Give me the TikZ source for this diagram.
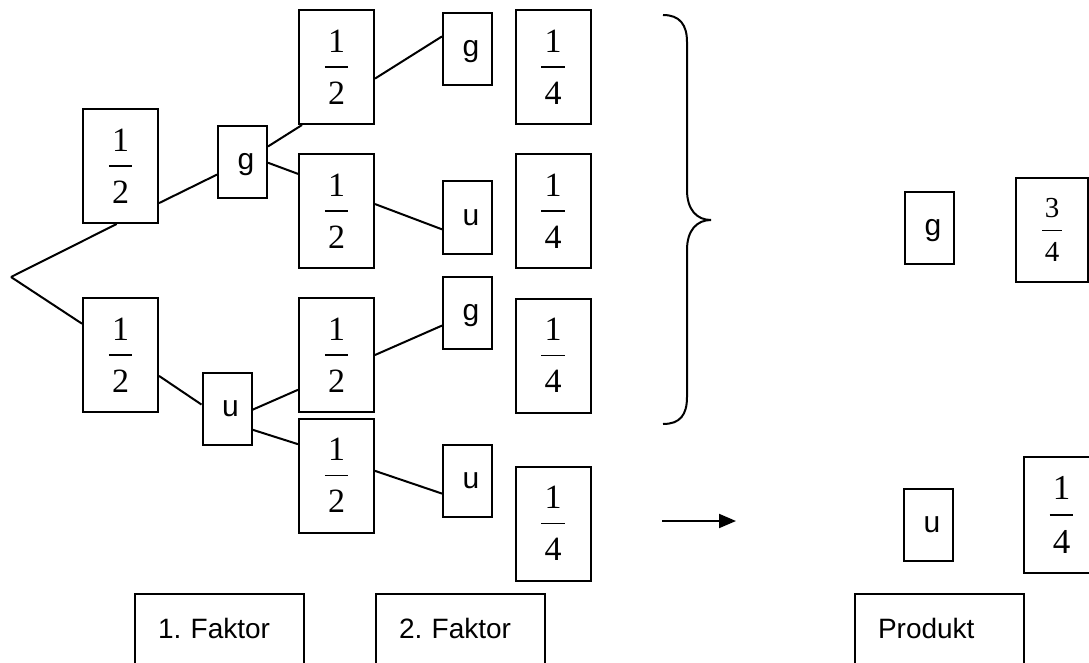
\documentclass[tikz,border=0pt]{standalone}
\usepackage{fontspec}
\setmainfont{Liberation Serif}
\setsansfont{Liberation Sans}
\usetikzlibrary{calc,arrows.meta}
\frenchspacing
\newcommand\fr[2]{\vbox{\offinterlineskip\halign{\hfil##\hfil\cr #1\cr\noalign{\kern0.41em}\vrule width 0.68em height 0.045em depth 0pt\cr\noalign{\kern0.41em}#2\cr}}}
\tikzset{
  fbox/.style={draw, line width=2pt, minimum width=75pt, minimum height=114pt, inner sep=0pt, font=\fontsize{34}{40}\selectfont},
  lbox/.style={draw, line width=2pt, minimum width=49pt, minimum height=72pt, inner sep=0pt, font=\sffamily\fontsize{30}{36}\selectfont, text height=15.6pt, text depth=0pt, execute at begin node={\hspace*{7pt}}},
  tbox/.style={draw, line width=2pt, anchor=north west, minimum height=100pt, inner xsep=23pt, inner ysep=0pt, text width=123pt, align=left, text height=10pt, text depth=22pt, font=\sffamily\fontsize{28}{34}\selectfont},
  conn/.style={line width=2pt}
}
\begin{document}
\begin{tikzpicture}[x=1pt,y=-1pt]
\useasboundingbox (0,0) rectangle (1089,663);
\clip (0,0) rectangle (1089,663);
% first level
\coordinate (root) at (11,277);
\node[fbox] (A) at (120.5,166) {\fr{1}{2}};
\node[fbox] (B) at (120.5,355) {\fr{1}{2}};
\node[lbox] (G1) at (242.5,162) {g};
\node[lbox] (U1) at (227,409) {u};
% second level
\node[fbox] (C1) at (336.5,67) {\fr{1}{2}};
\node[fbox] (C2) at (336.5,211) {\fr{1}{2}};
\node[fbox] (C3) at (336.5,355) {\fr{1}{2}};
\node[fbox] (C4) at (336.5,475.5) {\fr{1}{2}};
\node[lbox] (G2) at (467.5,49) {g};
\node[lbox] (U2) at (467.5,217.5) {u};
\node[lbox] (G3) at (467.5,313) {g};
\node[lbox] (U3) at (467.5,481) {u};
% products
\node[fbox] (D1) at (553,67) {\fr{1}{4}};
\node[fbox] (D2) at (553,211) {\fr{1}{4}};
\node[fbox] (D3) at (553,355.5) {\fr{1}{4}};
\node[fbox] (D4) at (553,523.5) {\fr{1}{4}};
% results
\node[lbox] (G4) at (929.5,228) {g};
\node[fbox, minimum width=72pt, minimum height=104pt, font=\fontsize{29}{34}\selectfont] (F34) at (1052,230) {\fr{3}{4}};
\node[lbox] (U4) at (928.5,524.5) {u};
\node[fbox, minimum height=116pt, font=\fontsize{35}{40}\selectfont] (F14) at (1061.5,515) {\fr{1}{4}};
% captions
\node[tbox] (K1) at (134,593) {1. Faktor};
\node[tbox] (K2) at (375,593) {2. Faktor};
\node[tbox] (K3) at (854,593) {Produkt};
% connectors
\draw[conn] (root) -- ($(A.south west)!0.45!(A.south east)$);
\draw[conn] (root) -- ($(B.north west)!0.23!(B.south west)$);
\draw[conn] ($(A.north east)!0.82!(A.south east)$) -- ($(G1.north west)!0.67!(G1.south west)$);
\draw[conn] ($(B.north east)!0.68!(B.south east)$) -- ($(U1.north west)!0.44!(U1.south west)$);
\draw[conn] ($(G1.north east)!0.29!(G1.south east)$) -- ($(C1.south west)+(4,0)$);
\draw[conn] ($(G1.north east)!0.51!(G1.south east)$) -- ($(C2.north west)!0.18!(C2.south west)$);
\draw[conn] ($(U1.north east)!0.51!(U1.south east)$) -- ($(C3.north west)!0.8!(C3.south west)$);
\draw[conn] ($(U1.north east)!0.78!(U1.south east)$) -- ($(C4.north west)!0.23!(C4.south west)$);
\draw[conn] ($(C1.north east)!0.6!(C1.south east)$) -- ($(G2.north west)!0.33!(G2.south west)$);
\draw[conn] ($(C2.north east)!0.44!(C2.south east)$) -- ($(U2.north west)!0.66!(U2.south west)$);
\draw[conn] ($(C3.north east)!0.5!(C3.south east)$) -- ($(G3.north west)!0.67!(G3.south west)$);
\draw[conn] ($(C4.north east)!0.46!(C4.south east)$) -- ($(U3.north west)!0.67!(U3.south west)$);
% brace
\draw[line width=2pt] (663,15) .. controls (680,15) and (687,25) .. (687,42) -- (687,190)
  .. controls (687,210) and (697,220) .. (711,220)
  .. controls (697,220) and (687,230) .. (687,250) -- (687,397)
  .. controls (687,415) and (680,424) .. (663,424);
% arrow
\coordinate (a0) at (662,521);
\coordinate (a1) at (736,521);
\draw[conn, -{Triangle[length=17pt,width=14pt]}] (a0) -- (a1);
\end{tikzpicture}
\end{document}
